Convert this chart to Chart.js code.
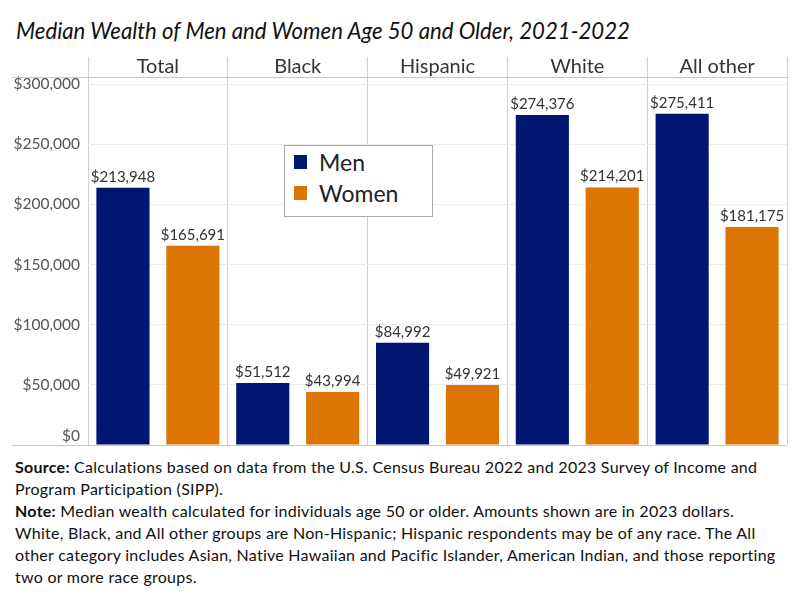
<!DOCTYPE html>
<html>
<head>
<meta charset="utf-8">
<script src="https://cdn.jsdelivr.net/npm/chart.js@4.4.1/dist/chart.umd.min.js"></script>
<style>
  body { margin: 0; background: #fff; width: 800px; height: 600px; overflow: hidden; position: relative; font-family: Lato, sans-serif; }
  #title { position: absolute; left: 16px; top: 18px; font-style: italic; font-size: 22.2px; line-height: 26px; color: #111; white-space: nowrap; }
  #wrap { position: absolute; left: 0; top: 0; width: 800px; height: 455px; }
  #legend { position: absolute; left: 284px; top: 145px; width: 149px; height: 72px; border: 1px solid #aaa; background: #fff; box-sizing: border-box; }
  .item { position: absolute; left: 9px; height: 28px; display: flex; align-items: center; font-size: 23px; color: #222; }
  .swatch { width: 13px; height: 14px; margin-right: 12px; }
  #notes { position: absolute; left: 15px; top: 456px; font-size: 16px; letter-spacing: 0.26px; line-height: 22px; color: #111; white-space: nowrap; }
</style>
</head>
<body>
<div id="title">Median Wealth of Men and Women Age 50 and Older, 2021-2022</div>
<div id="wrap"><canvas id="chart"></canvas></div>
<div id="legend"></div>
<div id="notes">
  <div><b>Source:</b> Calculations based on data from the U.S. Census Bureau 2022 and 2023 Survey of Income and</div>
  <div>Program Participation (SIPP).</div>
  <div><b>Note:</b> Median wealth calculated for individuals age 50 or older. Amounts shown are in 2023 dollars.</div>
  <div>White, Black, and All other groups are Non-Hispanic; Hispanic respondents may be of any race. The All</div>
  <div>other category includes Asian, Native Hawaiian and Pacific Islander, American Indian, and those reporting</div>
  <div>two or more race groups.</div>
</div>
<script>
// données du graphique
const categories = ['Total', 'Black', 'Hispanic', 'White', 'All other'];
const menValues = [213948, 51512, 84992, 274376, 275411];
const womenValues = [165691, 43994, 49921, 214201, 181175];
const yTicks = [0, 50000, 100000, 150000, 200000, 250000, 300000];
const seriesNames = ['Men', 'Women'];
const seriesColors = ['#011670', '#DC7502'];

const money = v => '$' + v.toLocaleString('en-US');

// valeurs au-dessus des barres
const valueLabels = {
    id: 'valueLabels',
    afterDatasetsDraw(chart) {
        const ctx = chart.ctx;
        ctx.save();
        ctx.font = '15px Lato';
        ctx.fillStyle = '#333';
        ctx.textAlign = 'center';
        chart.data.datasets.forEach((ds, i) => {
            chart.getDatasetMeta(i).data.forEach((bar, j) => {
                ctx.fillText(money(ds.data[j]), bar.x, bar.y - 6);
            });
        });
        ctx.restore();
    }
};

// lignes horizontales du cadre (en-tête et base)
const frameLines = {
    id: 'frameLines',
    beforeDatasetsDraw(chart) {
        const { ctx, chartArea } = chart;
        ctx.save();
        ctx.strokeStyle = '#c8c8c8';
        ctx.lineWidth = 1;
        ctx.beginPath();
        ctx.moveTo(12, chartArea.top + 0.5);
        ctx.lineTo(chartArea.left, chartArea.top + 0.5);
        ctx.moveTo(12, chartArea.bottom + 0.5);
        ctx.lineTo(chartArea.right, chartArea.bottom + 0.5);
        ctx.stroke();
        ctx.restore();
    }
};

const chart = new Chart(document.getElementById('chart'), {
    type: 'bar',
    data: {
        labels: categories,
        datasets: [
            { label: seriesNames[0], data: menValues, backgroundColor: seriesColors[0] },
            { label: seriesNames[1], data: womenValues, backgroundColor: seriesColors[1] }
        ]
    },
    options: {
        responsive: true,
        maintainAspectRatio: false,
        animation: false,
        categoryPercentage: 1.0,
        barPercentage: 0.76,
        layout: { padding: { top: 57, right: 13, left: 0, bottom: 10 } },
        plugins: {
            legend: { display: false },
            tooltip: { enabled: false }
        },
        scales: {
            x: {
                position: 'top',
                afterFit: s => { s.height = 20; },
                border: { display: true, color: '#c8c8c8' },
                grid: { offset: true, color: '#d0d0d0', tickLength: 20 },
                ticks: { padding: -22, color: '#333', font: { family: 'Lato', size: 20 } }
            },
            y: {
                min: 0,
                max: 306000,
                afterBuildTicks: s => { s.ticks = yTicks.map(v => ({ value: v })); },
                afterFit: s => { s.width = 88; s.paddingTop = 0; s.paddingBottom = 0; },
                border: { display: false },
                grid: { color: '#eeeeee', drawTicks: false },
                ticks: {
                    padding: 8, color: '#555', font: { family: 'Lato', size: 15.5 },
                    // le $0 est remonté au-dessus de la ligne de base
                    callback: v => v === 0 ? [money(v), ''] : money(v)
                }
            }
        }
    },
    plugins: [valueLabels, frameLines]
});

// légende HTML construite à partir des séries
const legend = document.getElementById('legend');
seriesNames.forEach((name, i) => {
    const item = document.createElement('div');
    item.className = 'item';
    item.style.top = (2 + i * 31) + 'px';
    item.innerHTML = `<span class="swatch" style="background:${seriesColors[i]}"></span>${name}`;
    legend.appendChild(item);
});
</script>
</body>
</html>
